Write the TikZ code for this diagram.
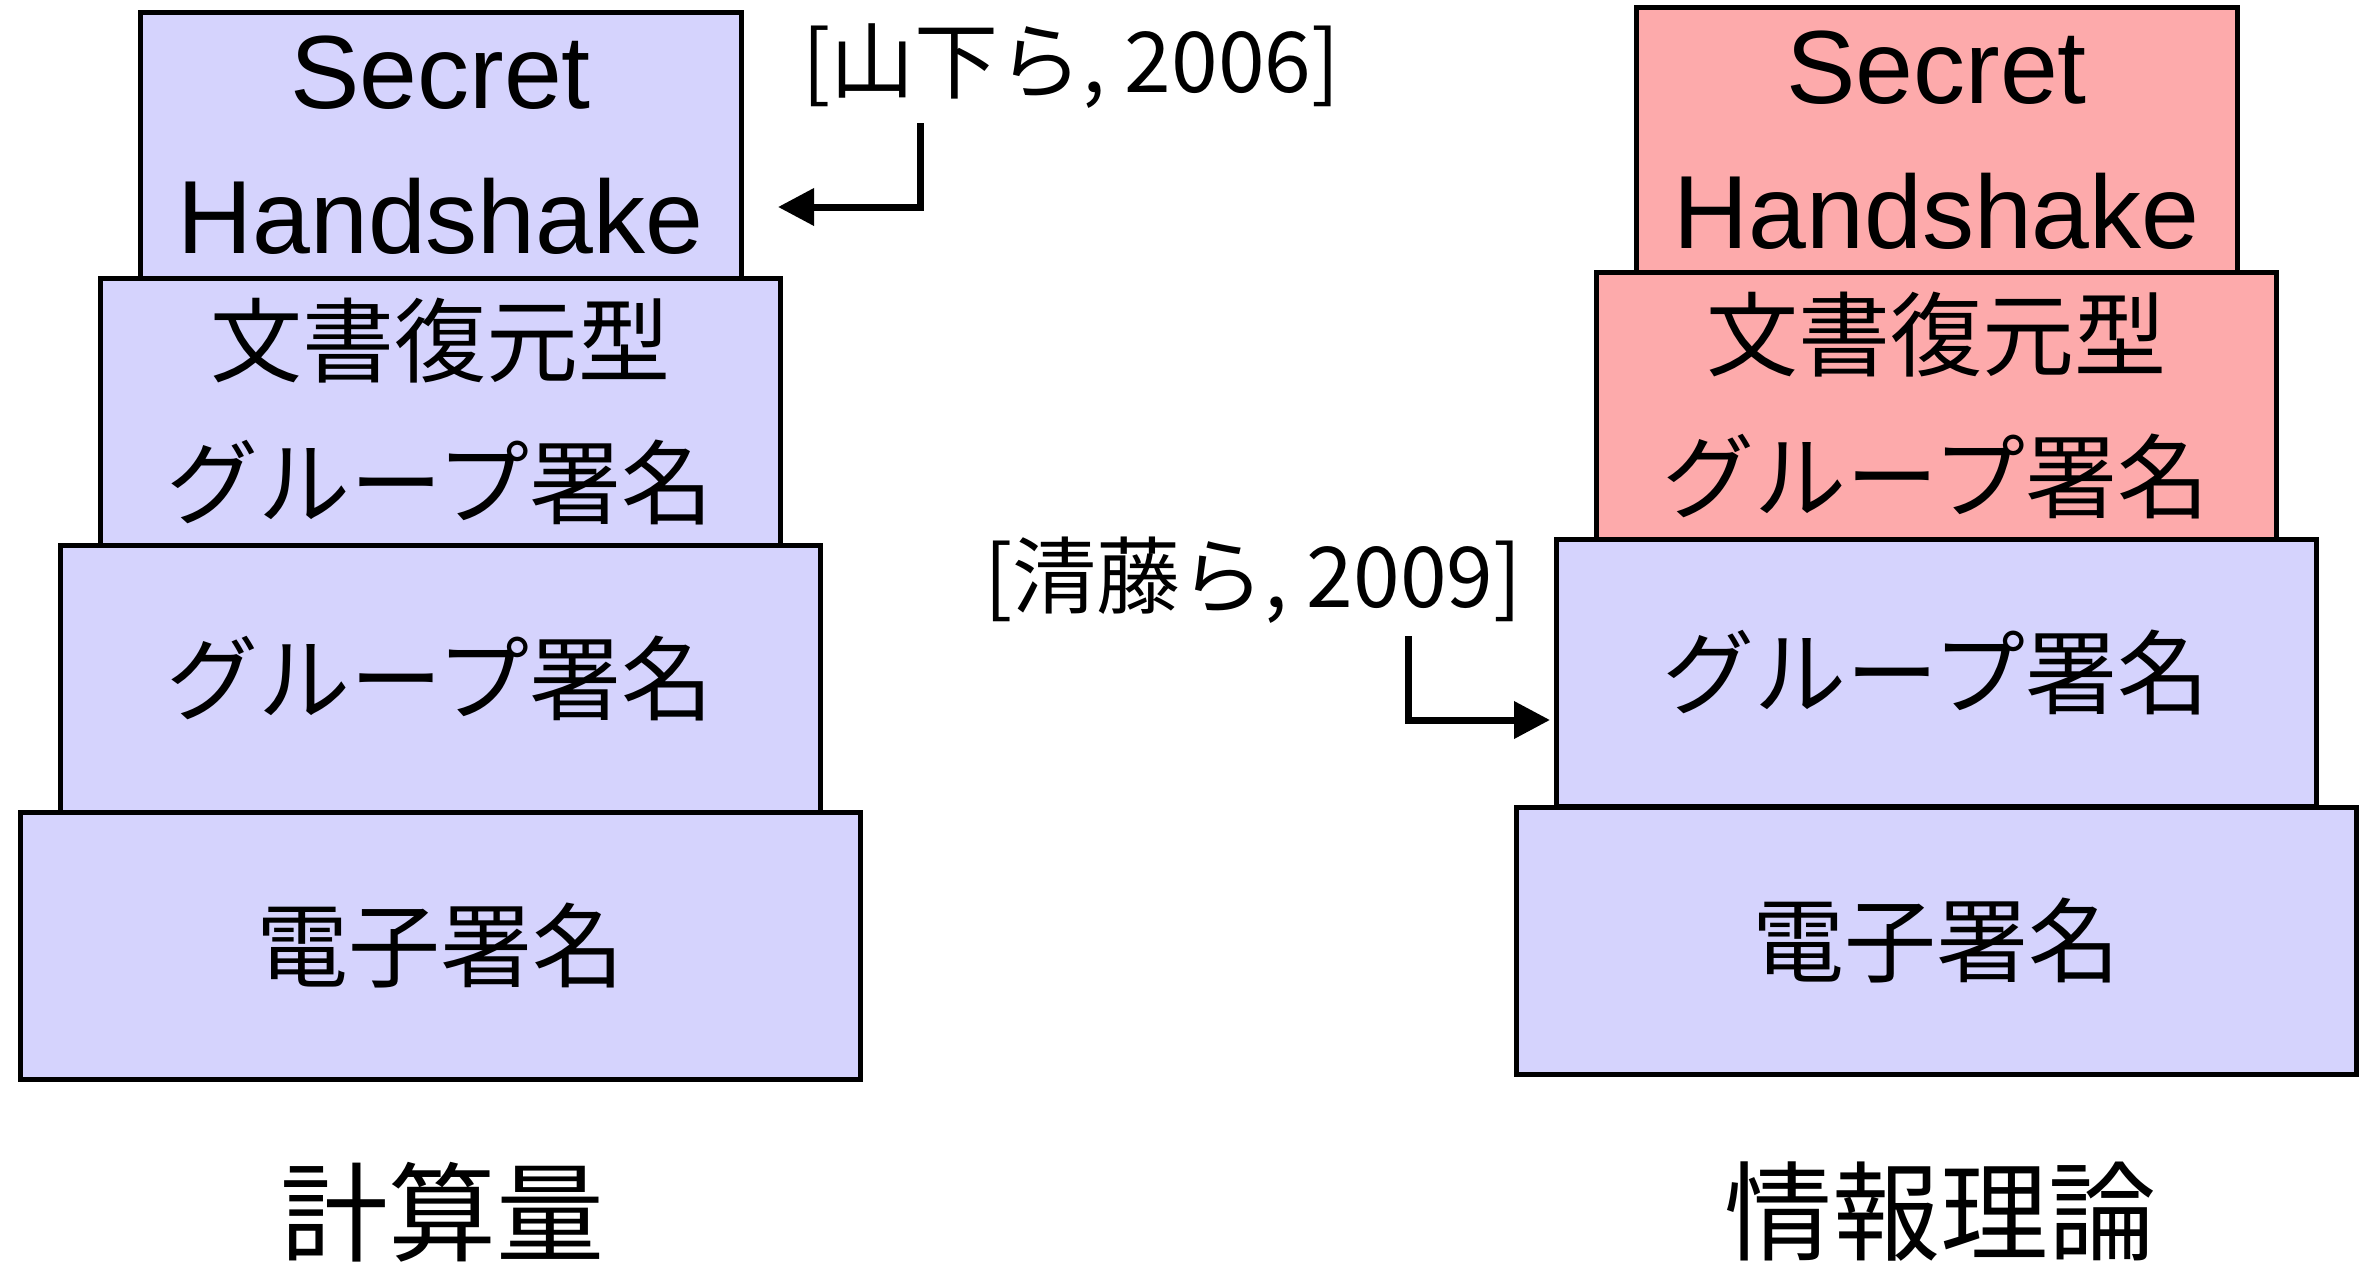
\documentclass[tikz,border=0pt]{standalone}
\usepackage{fontspec}
\newfontfamily\jpf{Noto Sans CJK JP}
\newfontfamily\latf{Liberation Sans}
\usetikzlibrary{arrows.meta}
\definecolor{lav}{RGB}{213,211,253}
\definecolor{pnk}{RGB}{253,170,171}
\begin{document}
\begin{tikzpicture}[x=1pt,y=-1pt,
  layerbox/.style={draw=black, line width=5pt, minimum height=267pt, inner sep=0pt, align=center},
  blufill/.style={fill=lav},
  pnkfill/.style={fill=pnk},
  shtext/.style={font=\latf\fontsize{104}{145}\selectfont},
  jptext/.style={font=\jpf\fontsize{92}{142}\selectfont},
  captxt/.style={font=\jpf\fontsize{108}{130}\selectfont},
  notetxt/.style={font=\jpf\fontsize{84}{100}\selectfont, inner sep=0pt},
  arr/.style={line width=7pt, -{Triangle[length=36pt,width=36pt]}}
]
\useasboundingbox (0,0) rectangle (2367,1272);
% left stack
\node[layerbox,blufill,shtext,minimum width=601pt] (l4) at (440.5,145.5) {Secret\\Handshake};
\node[layerbox,blufill,jptext,minimum width=680pt] (l3) at (440,412) {文書復元型\\グループ署名};
\node[layerbox,blufill,jptext,minimum width=760pt] (l2) at (440,678.5) {グループ署名};
\node[layerbox,blufill,jptext,minimum width=840pt] (l1) at (440,945.5) {電子署名};
% right stack
\node[layerbox,pnkfill,shtext,minimum width=601pt] (r4) at (1936.5,140.5) {Secret\\Handshake};
\node[layerbox,pnkfill,jptext,minimum width=680pt] (r3) at (1936,406) {文書復元型\\グループ署名};
\node[layerbox,blufill,jptext,minimum width=760pt] (r2) at (1936,672.5) {グループ署名};
\node[layerbox,blufill,jptext,minimum width=840pt] (r1) at (1936.5,940.5) {電子署名};
% captions
\node[captxt] (cl) at (442,1212) {計算量};
\node[captxt] (cr) at (1940,1212) {情報理論};
% notes
\node[notetxt] (n1) at (1071,66) {[山下ら, 2006]};
\node[notetxt] (n2) at (1253,580) {[清藤ら, 2009]};
\coordinate (a1s) at (920,123);
\coordinate (a1e) at (778,207);
\coordinate (a2s) at (1408,636);
\coordinate (a2e) at (1550,720);
\draw[arr] (a1s) |- (a1e);
\draw[arr] (a2s) |- (a2e);
\end{tikzpicture}
\end{document}
